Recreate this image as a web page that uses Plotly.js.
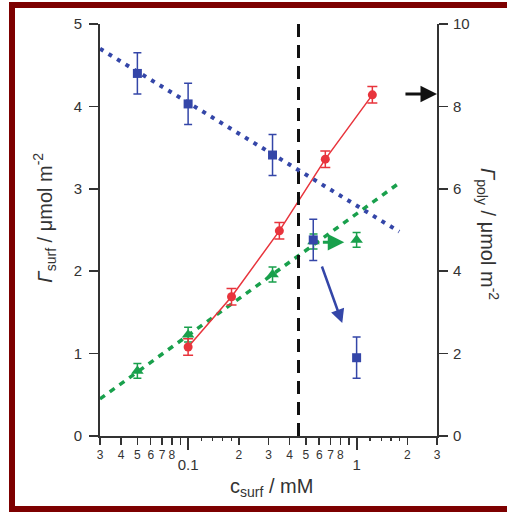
<!DOCTYPE html>
<html>
<head>
<meta charset="utf-8">
<script src="https://cdn.plot.ly/plotly-3.0.1.min.js"></script>
<style>
html,body{margin:0;padding:0;background:#fff;}
#wrap{position:relative;width:507px;height:512px;overflow:hidden;}
#chart{position:absolute;left:0;top:0;width:507px;height:512px;}
#frame{position:absolute;left:9px;top:2px;right:-20px;bottom:0;border:6px solid #7d0000;border-right:none;pointer-events:none;}
</style>
</head>
<body>
<div id="wrap"><div id="chart"></div><div id="frame"></div></div>
<script>
// ---- data ----
// Blue squares: Gamma_poly (right axis, umol m^-2)
const polyC   = [0.05, 0.10, 0.317, 0.553, 1.0];
const polyG   = [8.80, 8.06, 6.82, 4.76, 1.90];
const polyErr = [0.50, 0.50, 0.50, 0.50, 0.50];
const polyFitC = [0.03, 1.79];
const polyFitG = [9.40, 4.96];

// Red circles: Gamma_surf (left axis)
const surfC   = [0.10, 0.181, 0.348, 0.652, 1.24];
const surfG   = [1.08, 1.69, 2.49, 3.36, 4.14];
const surfErr = [0.10, 0.10, 0.10, 0.10, 0.10];

// Green triangles (left axis)
const triC   = [0.05, 0.10, 0.317, 0.555, 1.0];
const triG   = [0.79, 1.23, 1.96, 2.36, 2.38];
const triErr = [0.09, 0.09, 0.09, 0.09, 0.09];
const triFitC = [0.03, 1.79];
const triFitG = [0.45, 3.07];

// vertical dashed line (cmc)
const cmcC = [0.452, 0.452];
const cmcG = [0, 5];

// arrows: [tailC, tailG, headC, headG]
const blackArrow = [1.91, 4.15, 3.0, 4.15];
const greenArrow = [0.618, 2.35, 0.845, 2.35];
const blueArrow  = [0.618, 4.15, 0.822, 2.74]; // right-axis units

// tick labels
const minorTickVals = [0.03,0.04,0.05,0.06,0.07,0.08,0.09,0.2,0.3,0.4,0.5,0.6,0.7,0.8,0.9,2,3];
const minorTickText = ['3','4','5','6','7','8','','2','3','4','5','6','7','8','','2','3'];
const majorTickVals = [0.1, 1];
const majorTickText = ['0.1', '1'];
const tinyTickVals  = [0.12,0.14,0.16,0.18,1.2,1.4,1.6,1.8];
const leftTicks  = [0,1,2,3,4,5];
const rightTicks = [0,2,4,6,8,10];

const blue = '#3446a8', red = '#e8343c', green = '#19a04c', ink = '#333333';
const FONT = 'Liberation Sans, Arial, sans-serif';
const L = Math.log10;
const xr = [L(0.03), L(3)];

const traces = [
  {x: triFitC, y: triFitG, mode:'lines', line:{color:green, width:3.5, dash:'6px,6px'}, hoverinfo:'skip', showlegend:false},
  {x: triC, y: triG, mode:'markers', marker:{symbol:'triangle-up', size:11, color:green},
   error_y:{type:'data', array:triErr, visible:true, color:green, thickness:1.5, width:4}, showlegend:false},
  {x: surfC, y: surfG, mode:'lines+markers', line:{color:red, width:1.5}, marker:{symbol:'circle', size:9, color:red},
   error_y:{type:'data', array:surfErr, visible:true, color:red, thickness:1.5, width:5}, showlegend:false},
  {x: polyFitC, y: polyFitG, yaxis:'y2', mode:'lines', line:{color:blue, width:4, dash:'4px,6px'}, hoverinfo:'skip', showlegend:false},
  {x: polyC, y: polyG, yaxis:'y2', mode:'markers', marker:{symbol:'square', size:9, color:blue},
   error_y:{type:'data', array:polyErr, visible:true, color:blue, thickness:1.5, width:4}, showlegend:false},
  {x: cmcC, y: cmcG, mode:'lines', line:{color:'#111111', width:3, dash:'13px,8px'}, hoverinfo:'skip', showlegend:false},
  {x: [0.1], y: [null], xaxis:'x2', mode:'markers', hoverinfo:'skip', showlegend:false}
];

function arrow(a, col, w, yref){
  return {x:L(a[2]), y:a[3], ax:L(a[0]), ay:a[1], xref:'x', yref:yref, axref:'x', ayref:yref,
          showarrow:true, arrowhead:2, arrowsize:1.1, arrowwidth:w, arrowcolor:col, text:''};
}

const layout = {
  width:507, height:512,
  margin:{l:100, r:70, t:24, b:76},
  paper_bgcolor:'#fff', plot_bgcolor:'#fff',
  font:{family:FONT, color:ink},
  showlegend:false,
  xaxis:{type:'log', range:xr, tickmode:'array', tickvals:minorTickVals, ticktext:minorTickText,
         ticks:'outside', ticklen:7, tickwidth:1.5, tickcolor:ink, tickfont:{size:12, color:ink},
         ticklabelstandoff:0,
         showline:true, linewidth:2, linecolor:ink, showgrid:false, zeroline:false, fixedrange:true,
         minor:{tickmode:'array', tickvals:tinyTickVals, ticks:'outside', ticklen:3, tickwidth:1.2, tickcolor:ink, showgrid:false}},
  xaxis2:{type:'log', range:xr, overlaying:'x', anchor:'y', side:'bottom', tickmode:'array',
          tickvals:majorTickVals, ticktext:majorTickText, ticks:'outside', ticklen:13, tickwidth:2, tickcolor:ink,
          tickfont:{size:15, color:ink}, ticklabelstandoff:2, showline:false, showgrid:false, zeroline:false, fixedrange:true},
  yaxis:{range:[0,5], tickmode:'array', tickvals:leftTicks, ticks:'outside', ticklen:9, tickwidth:1.5, tickcolor:ink,
         tickfont:{size:15, color:ink}, ticklabelstandoff:4,
         showline:true, linewidth:2, linecolor:ink, showgrid:false, zeroline:false, fixedrange:true},
  yaxis2:{range:[0,10], overlaying:'y', side:'right', anchor:'x', tickmode:'array', tickvals:rightTicks,
          ticks:'outside', ticklen:9, tickwidth:1.5, tickcolor:ink, tickfont:{size:15, color:ink}, ticklabelstandoff:2,
          showline:true, linewidth:2, linecolor:ink, showgrid:false, zeroline:false, fixedrange:true},
  annotations:[
    arrow(blackArrow, '#111', 3, 'y'),
    arrow(greenArrow, green, 3, 'y'),
    arrow(blueArrow, blue, 2.5, 'y2'),
    {xref:'paper', yref:'paper', x:-0.163, y:0.53, xanchor:'center', yanchor:'middle', showarrow:false, textangle:-90,
     text:'<i>Γ</i><sub>surf</sub> / μmol m<sup>-2</sup>', font:{size:20, color:ink, family:FONT}},
    {xref:'paper', yref:'paper', x:1.152, y:0.49, xanchor:'center', yanchor:'middle', showarrow:false, textangle:90,
     text:'<i>Γ</i><sub>poly</sub> / μmol m<sup>-2</sup>', font:{size:20, color:ink, family:FONT}},
    {xref:'paper', yref:'paper', x:0.51, y:-0.125, xanchor:'center', yanchor:'middle', showarrow:false,
     text:'c<sub>surf</sub> / mM', font:{size:20, color:ink, family:FONT}}
  ]
};

Plotly.newPlot('chart', traces, layout, {displayModeBar:false, staticPlot:true});
</script>
</body>
</html>
